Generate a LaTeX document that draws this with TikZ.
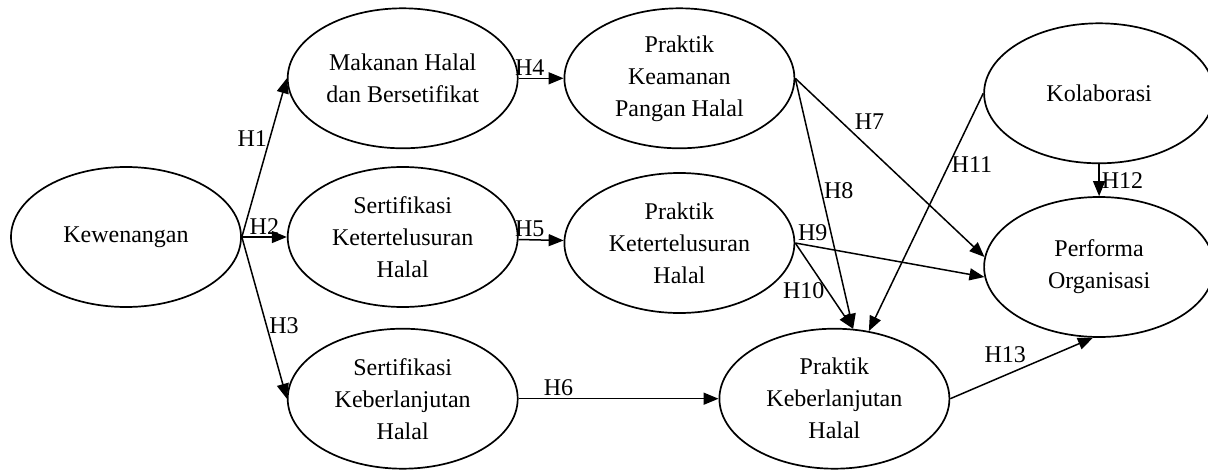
\documentclass[tikz,border=0pt]{standalone}
\usepackage{fontspec}
\setmainfont{Liberation Serif}
\usepackage{tikz}
\usetikzlibrary{positioning, arrows.meta, shapes.geometric}

\begin{document}
\begin{tikzpicture}[
        node distance=10pt and 22.5pt,
        font=\fontsize{12}{16}\selectfont,
        construct/.style={
          ellipse, draw=black, line width=0.85pt,
          fill=white, align=center,
          minimum width=115pt, minimum height=70pt,
          inner sep=0pt
        },
        hyp/.style={inner sep=1pt, font=\fontsize{12}{13}\selectfont},
        arr/.style={-{Triangle[length=7.5pt, width=6pt]}, line width=0.75pt, color=black}
      ]

      \useasboundingbox (-63pt,118.5pt) rectangle (541pt,-117pt);

      % Variabel eksogen
      \node[construct] (kewenangan) {Kewenangan};

      % Sertifikasi
      \node[construct, right=of kewenangan] (sertKet) {Sertifikasi\\Ketertelusuran\\Halal};
      \node[construct, above=of sertKet, yshift=-1.5pt] (makanan) {Makanan Halal\\dan Bersetifikat};
      \node[construct, below=of sertKet] (sertKeb) {Sertifikasi\\Keberlanjutan\\Halal};

      % Praktik
      \node[construct, right=of makanan] (prakKeam) {Praktik\\Keamanan\\Pangan Halal};
      \node[construct, right=of sertKet, yshift=-3pt] (prakKet) {Praktik\\Ketertelusuran\\Halal};
      \node[construct, right=100pt of sertKeb] (prakKeb) {Praktik\\Keberlanjutan\\Halal};

      % Kinerja
      \node[construct, right=94pt of prakKet, yshift=-12pt] (perf) {Performa\\Organisasi};
      \node[construct, above=16pt of perf] (kolab) {Kolaborasi};

      % Hipotesis
      \draw[arr] (kewenangan.east) -- node[hyp, pos=0.62, left]{H1} (makanan.west);
      \draw[arr] (kewenangan.east) -- node[hyp, above]{H2} (sertKet.west);
      \draw[arr] (kewenangan.east) -- node[hyp, pos=0.55, right]{H3} (sertKeb.west);
      \draw[arr] (makanan) -- node[hyp, near start, above]{H4} (prakKeam);
      \draw[arr] (sertKet) -- node[hyp, near start, above]{H5} (prakKet);
      \draw[arr] (sertKeb) -- node[hyp, pos=0.2, above]{H6} (prakKeb);
      \draw[arr] (prakKeam.east) -- node[hyp, pos=0.3, above right]{H7} (perf.175);
      \draw[arr] (prakKeam.east) -- node[hyp, pos=0.45, right]{H8} (prakKeb.75);
      \draw[arr] (prakKet.east) -- node[hyp, pos=0, anchor=south west]{H9} (perf.185);
      \draw[arr] (prakKet.east) -- node[hyp, pos=0.55, left]{H10} (prakKeb.75);
      \draw[arr] (kolab.west) -- node[hyp, pos=0.3, right]{H11} (prakKeb.63);
      \draw[arr] (kolab) -- node[hyp, right]{H12} (perf);
      \draw[arr] (prakKeb.east) -- node[hyp, pos=0.55, above left]{H13} (perf.265);

    \end{tikzpicture}
\end{document}
